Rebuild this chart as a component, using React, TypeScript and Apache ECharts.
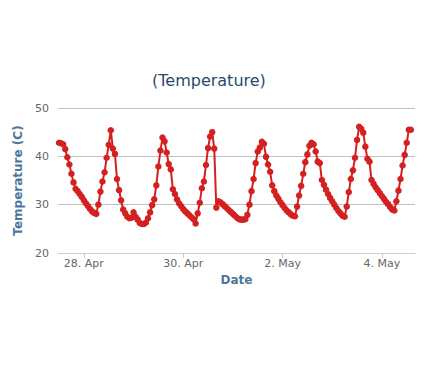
import React, { useEffect, useRef } from "react";
import * as echarts from "echarts";

// hours counted from 27 Apr 00:00
const startHour = 12;
const temperatures = [
  42.8, 42.7, 42.5, 41.5, 39.8, 38.3, 36.4, 34.6, 33.3, 32.8, 32.2, 31.6,
  30.9, 30.3, 29.7, 29.1, 28.6, 28.3, 28.1, 30.0, 32.7, 34.8, 36.7, 39.7,
  42.4, 45.4, 41.6, 40.5, 35.3, 33.0, 30.9, 29.0, 28.2, 27.5, 27.2, 27.3,
  28.4, 27.5, 26.9, 26.2, 26.0, 26.0, 26.3, 27.2, 28.4, 29.9, 31.1, 34.0,
  37.9, 41.2, 43.9, 43.1, 40.8, 38.4, 37.3, 33.2, 32.2, 31.1, 30.3, 29.7,
  29.1, 28.6, 28.2, 27.8, 27.4, 27.0, 26.1, 28.2, 30.4, 33.4, 34.8, 38.2,
  41.7, 44.1, 45.0, 41.6, 29.4, 30.7, 30.5, 30.1, 29.7, 29.3, 28.9, 28.5,
  28.1, 27.7, 27.3, 27.0, 26.9, 26.9, 27.0, 27.9, 30.0, 32.8, 35.3, 38.6,
  41.0, 41.8, 43.0, 42.6, 39.9, 38.3, 36.8, 34.0, 32.8, 31.9, 31.2, 30.5,
  29.9, 29.3, 28.8, 28.4, 28.0, 27.7, 27.6, 29.6, 31.9, 33.9, 36.4, 38.8,
  40.4, 42.2, 42.8, 42.5, 41.0, 38.9, 38.6, 35.1, 34.1, 33.1, 32.2, 31.4,
  30.7, 30.0, 29.3, 28.7, 28.2, 27.7, 27.5, 29.6, 32.6, 35.3, 37.1, 39.7,
  43.4, 46.1, 45.7, 44.9, 42.0, 39.5, 38.9, 35.1, 34.3, 33.6, 33.0, 32.4,
  31.8, 31.2, 30.6, 30.1, 29.5, 29.0, 28.8, 30.7, 32.9, 35.3, 38.1, 40.3,
  42.8, 45.5, 45.5,
];
const tickHours = [24, 72, 120, 168];
const tickLabels = ["28. Apr", "30. Apr", "2. May", "4. May"];

const FONT = "DejaVu Sans";

export default function App() {
  const ref = useRef<HTMLDivElement>(null);
  useEffect(() => {
    document.body.style.margin = "0";
    const chart = echarts.init(ref.current!, null, { renderer: "svg" });
    const data = temperatures.map((t, i) => [startHour + i, t]);
    chart.setOption({
      animation: false,
      backgroundColor: "#ffffff",
      title: {
        text: "(Temperature)",
        left: 152,
        top: 72,
        padding: 0,
        textStyle: {
          color: "#274b6d",
          fontSize: 16,
          fontWeight: "normal",
          fontFamily: FONT,
        },
      },
      grid: { left: 58, right: 29, top: 108, bottom: 132, containLabel: false },
      xAxis: {
        type: "value",
        min: 11.5,
        max: 184,
        name: "Date",
        nameLocation: "middle",
        nameGap: 21,
        nameTextStyle: {
          color: "#4d759e",
          fontWeight: "bold",
          fontSize: 12,
          fontFamily: FONT,
        },
        axisLine: { show: true, lineStyle: { color: "#C0D0E0", width: 1 } },
        axisTick: {
          show: true,
          length: 5,
          customValues: tickHours,
          lineStyle: { color: "#C0D0E0" },
        },
        axisLabel: {
          customValues: tickHours,
          formatter: (v: number) => tickLabels[tickHours.indexOf(Math.round(v))] ?? "",
          color: "#666666",
          fontSize: 11,
          fontFamily: FONT,
          margin: 5,
        },
        splitLine: { show: false },
      },
      yAxis: {
        type: "value",
        min: 20,
        max: 50,
        interval: 10,
        name: "Temperature (C)",
        nameLocation: "middle",
        nameGap: 25,
        nameTextStyle: {
          color: "#4d759e",
          fontWeight: "bold",
          fontSize: 12,
          fontFamily: FONT,
        },
        axisLine: { show: false },
        axisTick: { show: false },
        axisLabel: { color: "#666666", fontSize: 11, fontFamily: FONT, margin: 9 },
        splitLine: { lineStyle: { color: "#C0C0C0", width: 1 } },
      },
      series: [
        {
          type: "line",
          data,
          symbol: "circle",
          symbolSize: 6.5,
          showAllSymbol: true,
          itemStyle: { color: "#d42020" },
          lineStyle: { color: "#d42020", width: 2 },
        },
      ],
    });
    return () => chart.dispose();
  }, []);
  return <div ref={ref} style={{ width: 444, height: 385 }} />;
}
